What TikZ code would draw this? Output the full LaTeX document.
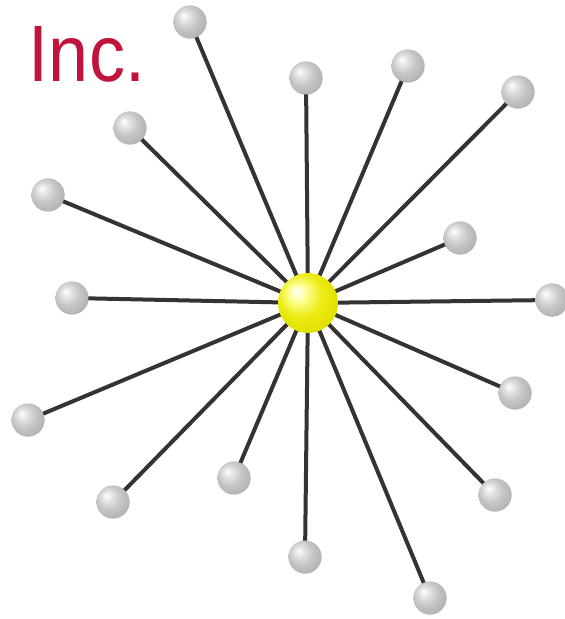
\documentclass[tikz,border=0pt]{standalone}
\usepackage{fontspec}
\setmainfont{Liberation Sans}
\definecolor{inkred}{HTML}{C0143C}
\definecolor{spoke}{HTML}{333333}
\pgfdeclareradialshading{softgray}{\pgfqpoint{-10bp}{10bp}}{color(0bp)=(white); color(7bp)=(white!80!gray); color(18bp)=(gray!45); color(30bp)=(gray!60); color(50bp)=(gray!80)}
\pgfdeclareradialshading{softyellow}{\pgfqpoint{-10bp}{10bp}}{color(0bp)=(white); color(7bp)=(yellow!40!white); color(18bp)=(yellow!85!gray); color(30bp)=(yellow!75!olive); color(50bp)=(olive!90!black)}
\tikzset{
  leaf/.style={circle,minimum size=33pt,inner sep=0pt,shading=softgray,draw=none},
  hub/.style={circle,minimum size=60pt,inner sep=0pt,shading=softyellow,draw=none},
  spk/.style={draw=spoke,line width=4pt}
}
\begin{document}
\begin{tikzpicture}[x=1pt,y=-1pt]
\useasboundingbox (0,0) rectangle (565,619);
\node[anchor=center,text=inkred,font=\fontsize{80}{82}\selectfont,xscale=0.9] (inc) at (87,54) {Inc.};
\coordinate (c) at (308,303);
\foreach \n/\x/\y in {1/190/22,2/306/78,3/408/66,4/518/92,5/130/128,6/48/195,7/460/238,8/72/298,9/552/300,10/515/393,11/28/420,12/234/478,13/113/502,14/495/495,15/305/557,16/430/598}{
  \node[leaf] (b\n) at (\x,\y) {};
}
\foreach \n in {1,...,16}{
  \draw[spk] (c) -- (b\n.center);
}
\foreach \n/\x/\y in {1/190/22,2/306/78,3/408/66,4/518/92,5/130/128,6/48/195,7/460/238,8/72/298,9/552/300,10/515/393,11/28/420,12/234/478,13/113/502,14/495/495,15/305/557,16/430/598}{
  \node[leaf] at (\x,\y) {};
}
\node[hub] (h) at (c) {};
\end{tikzpicture}
\end{document}
